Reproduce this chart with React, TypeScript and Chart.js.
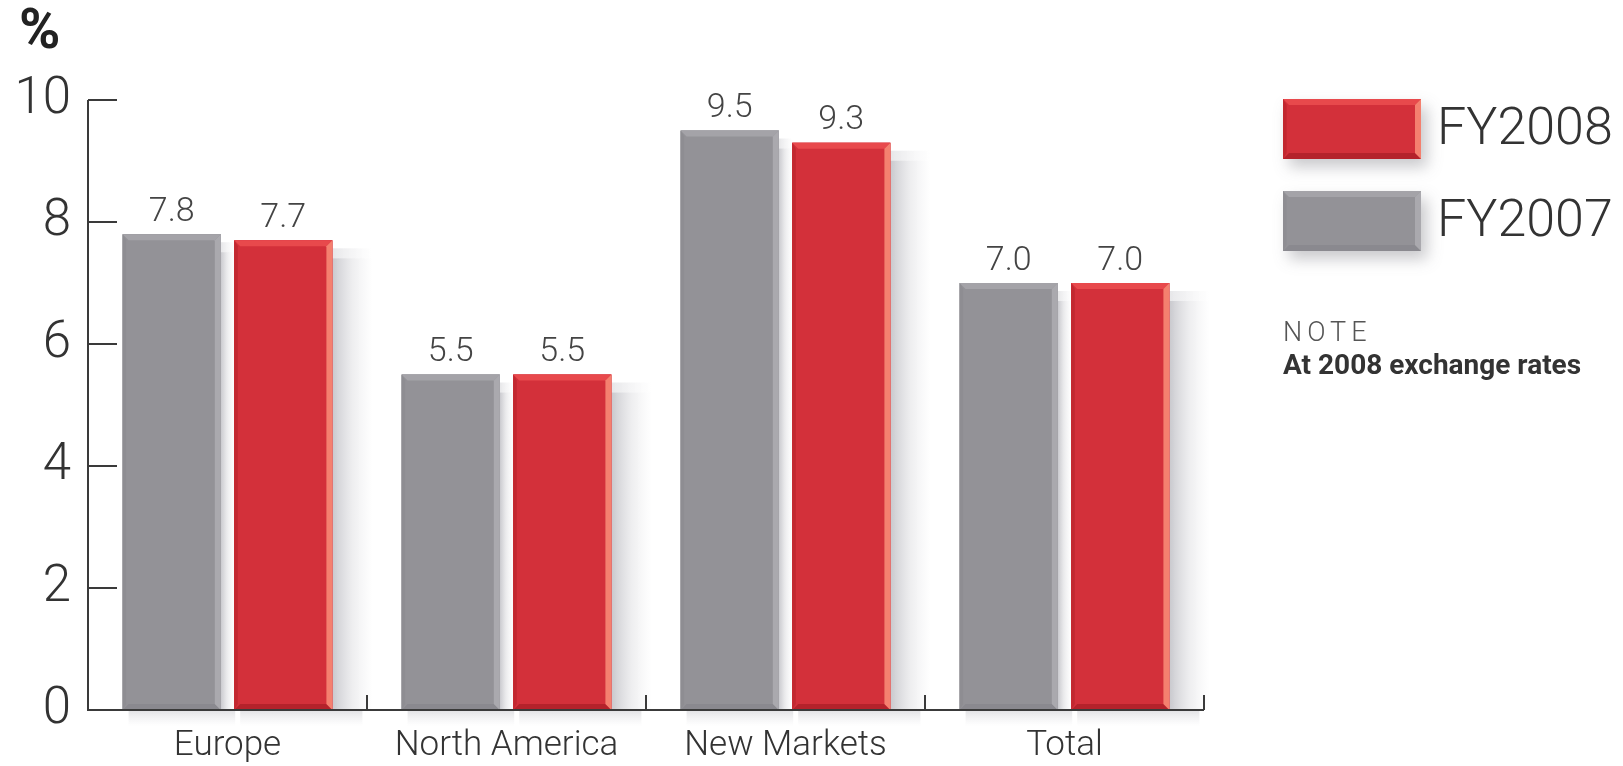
import React, { useEffect, useRef } from "react";
import { Chart, registerables } from "chart.js";

Chart.register(...registerables);

const categories = ["Europe", "North America", "New Markets", "Total"];
const fy2007 = [7.8, 5.5, 9.5, 7.0];
const fy2008 = [7.7, 5.5, 9.3, 7.0];
const yTicks = [0, 2, 4, 6, 8, 10];
const seriesLabels = ["FY2007", "FY2008"];
const unitLabel = "%";
const noteTitle = "NOTE";
const noteText = "At 2008 exchange rates";

const FONT = "Roboto, 'Liberation Sans', Arial, sans-serif";

const GRAY = {
  face: "#939297",
  top: "#a4a3a8",
  right: "#aaa9ae",
  bottom: "#8a898f",
  left: "#8e8d92",
};
const RED = {
  face: "#d3303a",
  top: "#e8494c",
  right: "#f4806f",
  bottom: "#b4222b",
  left: "#c22830",
};

function poly(ctx: CanvasRenderingContext2D, pts: number[][], color: string) {
  ctx.beginPath();
  ctx.moveTo(pts[0][0], pts[0][1]);
  for (let i = 1; i < pts.length; i++) ctx.lineTo(pts[i][0], pts[i][1]);
  ctx.closePath();
  ctx.fillStyle = color;
  ctx.fill();
}

function bevel(ctx: CanvasRenderingContext2D, L: number, T: number, R: number, B: number, c: any, s: number) {
  ctx.fillStyle = c.face;
  ctx.fillRect(L, T, R - L, B - T);
  poly(ctx, [[L, T], [R, T], [R - s, T + s], [L + s, T + s]], c.top);
  poly(ctx, [[L, B], [R, B], [R - s, B - s], [L + s, B - s]], c.bottom);
  poly(ctx, [[L, T], [L, B], [L + s * 0.6, B - s], [L + s * 0.6, T + s]], c.left);
  poly(ctx, [[R, T], [R, B], [R - s, B - s], [R - s, T + s]], c.right);
}

function shadow(ctx: CanvasRenderingContext2D, L: number, T: number, R: number, B: number, w: number) {
  const g = ctx.createLinearGradient(R, 0, R + w, 0);
  g.addColorStop(0, "rgba(120,120,132,0.40)");
  g.addColorStop(0.5, "rgba(150,150,160,0.16)");
  g.addColorStop(1, "rgba(170,170,180,0)");
  ctx.fillStyle = g;
  ctx.fillRect(R, T + 18, w, B - T - 18);
  const g3 = ctx.createLinearGradient(R, 0, R + w, 0);
  g3.addColorStop(0, "rgba(120,120,132,0.30)");
  g3.addColorStop(1, "rgba(170,170,180,0)");
  ctx.fillStyle = g3;
  ctx.globalAlpha = 0.6;
  ctx.fillRect(R, T + 8, w, 10);
  ctx.globalAlpha = 1;
  const g2 = ctx.createLinearGradient(0, B, 0, B + 16);
  g2.addColorStop(0, "rgba(120,120,132,0.22)");
  g2.addColorStop(1, "rgba(170,170,180,0)");
  ctx.fillStyle = g2;
  ctx.fillRect(L + 6, B, R - L + w * 0.6, 16);
}

const decor = {
  id: "decor",
  beforeDatasetsDraw(chart: any) {
    const ctx = chart.ctx;
    ctx.save();
    chart.data.datasets.forEach((_: any, di: number) => {
      const meta = chart.getDatasetMeta(di);
      meta.data.forEach((bar: any) => {
        const p = bar.getProps(["x", "y", "base", "width"], true);
        const L = p.x - p.width / 2;
        const R = p.x + p.width / 2;
        shadow(ctx, L, p.y, R, p.base, di === 0 ? 14 : 40);
      });
    });
    ctx.restore();
  },
  afterDatasetsDraw(chart: any) {
    const ctx = chart.ctx;
    const area = chart.chartArea;
    const xs = chart.scales.x;
    const ys = chart.scales.y;
    ctx.save();
    chart.data.datasets.forEach((ds: any, di: number) => {
      const meta = chart.getDatasetMeta(di);
      const cols = di === 0 ? GRAY : RED;
      meta.data.forEach((bar: any, i: number) => {
        const p = bar.getProps(["x", "y", "base", "width"], true);
        const L = p.x - p.width / 2;
        const R = p.x + p.width / 2;
        bevel(ctx, L, p.y, R, p.base, cols, 6);
        ctx.fillStyle = "#444";
        ctx.font = `300 34px ${FONT}`;
        ctx.textAlign = "center";
        ctx.textBaseline = "middle";
        ctx.fillText(ds.data[i].toFixed(1), p.x, p.y - 22);
      });
    });

    // axes
    ctx.strokeStyle = "#3a3a3a";
    ctx.lineWidth = 2;
    const y0 = ys.getPixelForValue(0);
    const yTop = ys.getPixelForValue(yTicks[yTicks.length - 1]);
    ctx.beginPath();
    ctx.moveTo(area.left, yTop);
    ctx.lineTo(area.left, y0);
    ctx.lineTo(area.right, y0);
    ctx.stroke();
    yTicks.forEach((v) => {
      if (v === 0) return;
      const yy = ys.getPixelForValue(v);
      ctx.beginPath();
      ctx.moveTo(area.left, yy);
      ctx.lineTo(area.left + 29, yy);
      ctx.stroke();
    });
    for (let i = 0; i < categories.length; i++) {
      const xx =
        i < categories.length - 1
          ? (xs.getPixelForValue(i) + xs.getPixelForValue(i + 1)) / 2
          : area.right;
      ctx.beginPath();
      ctx.moveTo(xx, y0);
      ctx.lineTo(xx, y0 - 15);
      ctx.stroke();
    }
    ctx.restore();
  },
  afterDraw(chart: any) {
    const ctx = chart.ctx;
    const area = chart.chartArea;
    ctx.save();
    // unit label
    ctx.fillStyle = "#222";
    ctx.font = `bold 56px ${FONT}`;
    ctx.textAlign = "left";
    ctx.textBaseline = "middle";
    ctx.fillText(unitLabel, 19, area.top - 66);

    // legend
    const lx = area.right + 79;
    const order = [1, 0];
    order.forEach((di, k) => {
      const top = 99 + k * 92;
      const cols = di === 0 ? GRAY : RED;
      ctx.save();
      ctx.shadowColor = "rgba(100,100,110,0.35)";
      ctx.shadowBlur = 14;
      ctx.shadowOffsetX = 6;
      ctx.shadowOffsetY = 8;
      ctx.fillStyle = cols.face;
      ctx.fillRect(lx, top, 138, 60);
      ctx.restore();
      bevel(ctx, lx, top, lx + 138, top + 60, cols, 6);
      ctx.fillStyle = "#333";
      ctx.font = `300 52px ${FONT}`;
      ctx.textAlign = "left";
      ctx.textBaseline = "middle";
      ctx.fillText(chart.data.datasets[di].label, lx + 154, top + 32);
    });

    // note
    ctx.fillStyle = "#555";
    ctx.font = `300 27px ${FONT}`;
    (ctx as any).letterSpacing = "5px";
    ctx.textBaseline = "middle";
    ctx.fillText(noteTitle, lx, 334);
    (ctx as any).letterSpacing = "0px";
    ctx.fillStyle = "#333";
    ctx.font = `bold 28px ${FONT}`;
    ctx.fillText(noteText, lx, 367);
    ctx.restore();
  },
};

export default function App() {
  const ref = useRef<HTMLCanvasElement>(null);
  useEffect(() => {
    if (!ref.current) return;
    const chart = new Chart(ref.current, {
      type: "bar",
      data: {
        labels: categories,
        datasets: [
          { label: seriesLabels[0], data: fy2007, backgroundColor: GRAY.face },
          { label: seriesLabels[1], data: fy2008, backgroundColor: RED.face },
        ],
      },
      options: {
        animation: false,
        responsive: true,
        maintainAspectRatio: false,
        events: [],
        layout: { padding: { top: 100, right: 419, bottom: 0, left: 0 } },
        datasets: {
          bar: { categoryPercentage: 0.8, barPercentage: 0.88 },
        },
        plugins: {
          legend: { display: false },
          tooltip: { enabled: false },
        },
        scales: {
          x: {
            grid: { display: false, drawTicks: false },
            border: { display: false },
            ticks: {
              color: "#333",
              padding: 15,
              font: { family: FONT, size: 35, weight: "300" as any },
            },
            afterFit: (s: any) => {
              s.height = 56;
            },
          },
          y: {
            min: 0,
            max: 10,
            grid: { display: false, drawTicks: false },
            border: { display: false },
            afterBuildTicks: (s: any) => {
              s.ticks = yTicks.map((v) => ({ value: v }));
            },
            ticks: {
              color: "#333",
              padding: 17,
              font: { family: FONT, size: 51, weight: "300" as any },
            },
            afterFit: (s: any) => {
              s.width = 88;
            },
          },
        },
      },
      plugins: [decor],
    });
    return () => chart.destroy();
  }, []);
  return (
    <div style={{ position: "fixed", left: 0, top: 0, width: 1623, height: 766, background: "#fff" }}>
      <canvas ref={ref} />
    </div>
  );
}
